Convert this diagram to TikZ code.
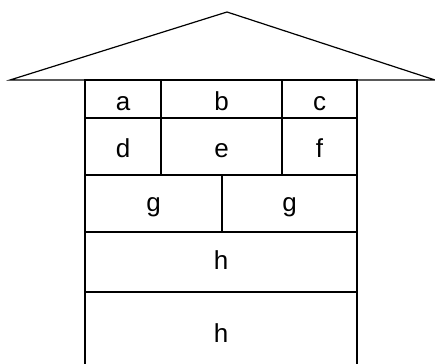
\documentclass[tikz,border=0pt]{standalone}
\usepackage{fontspec}
\setmainfont{Liberation Sans}
\usetikzlibrary{positioning}

\begin{document}
\begin{tikzpicture}[
  x=1pt, y=-1pt,
  node distance=0pt,
  cell/.style={rectangle, draw, line width=1.2pt, inner sep=0pt, outer sep=0pt, font=\fontsize{26}{26}\selectfont, text depth=0pt},
  roof/.style={draw, line width=1.2pt},
]
  \clip (0,0) rectangle (435,363);

  % roof
  \draw[roof] (10,80) -- (227,12) -- (435,80) -- cycle;

  % first floor
  \node[cell, anchor=north west, minimum width=76pt, minimum height=38pt, text height=24pt] (a) at (85,80) {a};
  \node[cell, right=of a, minimum width=121pt, minimum height=38pt, text height=24pt] (b) {b};
  \node[cell, right=of b, minimum width=75pt, minimum height=38pt, text height=24pt] (c) {c};

  \node[cell, below=of a, minimum width=76pt, minimum height=57pt, text height=22pt] (d) {d};
  \node[cell, right=of d, minimum width=121pt, minimum height=57pt, text height=22pt] (e) {e};
  \node[cell, right=of e, minimum width=75pt, minimum height=57pt, text height=22pt] (f) {f};

  % lower floors
  \node[cell, anchor=north west, minimum width=137pt, minimum height=57pt, text height=15pt] (g1) at (d.south west) {g};
  \node[cell, right=of g1, minimum width=135pt, minimum height=57pt, text height=15pt] (g2) {g};

  \node[cell, anchor=north west, minimum width=272pt, minimum height=60pt, text height=14pt] (h1) at (g1.south west) {h};
  \node[cell, below=of h1, minimum width=272pt, minimum height=82pt, text height=18pt] (h2) {h};
\end{tikzpicture}
\end{document}
